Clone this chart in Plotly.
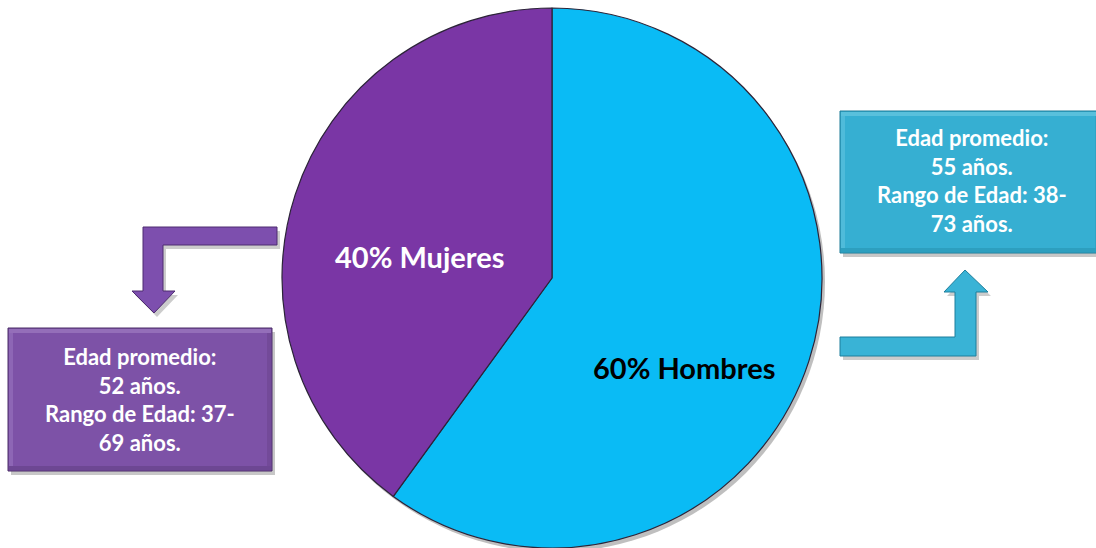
import plotly.graph_objects as go

# Sex distribution of the sample
sexes = ["Hombres", "Mujeres"]
shares = [60, 40]
slice_colors = ["#0ABBF5", "#7A36A5"]

# Age summary by sex
mean_age = {"Hombres": 55, "Mujeres": 52}
age_min = {"Hombres": 38, "Mujeres": 37}
age_max = {"Hombres": 73, "Mujeres": 69}

W, H = 1096, 548
FONT = "Lato"

fig = go.Figure()

# Pie: Hombres starts at 12 o'clock and runs clockwise
fig.add_trace(go.Pie(
    labels=sexes,
    values=shares,
    sort=False,
    direction="clockwise",
    rotation=0,
    textinfo="none",
    hoverinfo="label+percent",
    marker=dict(colors=slice_colors, line=dict(color="#2c2438", width=1.2)),
    domain=dict(x=[282 / W, 822 / W], y=[0, 1 - 8 / H]),
    showlegend=False,
))

shapes = []
annotations = []


def rect(x0, y0, x1, y1, fill, opacity=1.0):
    shapes.append(dict(type="rect", xref="x", yref="y", x0=x0, y0=y0, x1=x1, y1=y1,
                       fillcolor=fill, opacity=opacity, line=dict(width=0), layer="below"))


def box(x0, y0, x1, y1, fill, light, dark):
    # drop shadow
    rect(x0 + 3, y0 + 4, x1 + 3, y1 + 4, "rgba(0,0,0,0.22)")
    shapes.append(dict(type="rect", xref="x", yref="y", x0=x0, y0=y0, x1=x1, y1=y1,
                       fillcolor=fill, line=dict(color=dark, width=1), layer="below"))
    # soft bevel: light top/left edges, darker bottom/right edges
    rect(x0 + 1, y0 + 1, x1 - 1, y0 + 5, light, 0.35)
    rect(x0 + 1, y0 + 5, x0 + 5, y1 - 5, light, 0.25)
    rect(x0 + 1, y1 - 5, x1 - 1, y1 - 1, dark, 0.3)
    rect(x1 - 5, y0 + 5, x1 - 1, y1 - 5, dark, 0.2)


def poly(pts, dx=0, dy=0):
    return "M " + " L ".join(f"{x + dx},{y + dy}" for x, y in pts) + " Z"


# Left (Mujeres) elbow arrow pointing down to its box
left_pts = [(277, 227), (277, 245), (163, 245), (163, 291), (175, 291), (154, 313),
            (132, 291), (143, 291), (143, 227)]
# Right (Hombres) elbow arrow pointing up to its box
right_pts = [(840, 337), (955, 337), (955, 292), (944, 292), (965, 270), (988, 292),
             (976, 292), (976, 356), (840, 356)]

for pts, fill, dark in [(left_pts, "#7D4FAE", "#4e2d70"), (right_pts, "#39B3D6", "#1f7f9c")]:
    shapes.append(dict(type="path", xref="x", yref="y", path=poly(pts, 3, 4),
                       fillcolor="rgba(0,0,0,0.2)", line=dict(width=0), layer="below"))
    shapes.append(dict(type="path", xref="x", yref="y", path=poly(pts),
                       fillcolor=fill, line=dict(color=dark, width=1), layer="below"))

box(8, 328, 272, 471, "#7D52A7", "#C0A2DE", "#4a2d66")
box(840, 111, 1100, 253, "#36AFD2", "#9BDFF2", "#1c7a96")

# Pie shadow
shapes.insert(0, dict(type="circle", xref="x", yref="y", x0=282 + 3, y0=8 + 4, x1=822 + 3, y1=548 + 4,
                      fillcolor="rgba(0,0,0,0.25)", line=dict(width=0), layer="below"))

# Slice labels
share = dict(zip(sexes, shares))
annotations.append(dict(x=419, y=256, xref="x", yref="y", showarrow=False,
                        text=f"<b>{share['Mujeres']}% Mujeres</b>",
                        font=dict(family=FONT, size=29, color="white")))
annotations.append(dict(x=684, y=367, xref="x", yref="y", showarrow=False,
                        text=f"<b>{share['Hombres']}% Hombres</b>",
                        font=dict(family=FONT, size=29, color="black")))


def summary(sex):
    return (f"<b>Edad promedio:<br>{mean_age[sex]} años.<br>"
            f"Rango de Edad: {age_min[sex]}-<br>{age_max[sex]} años.</b>")


annotations.append(dict(x=140, y=399, xref="x", yref="y", showarrow=False, text=summary("Mujeres"),
                        font=dict(family=FONT, size=22, color="white"), align="center"))
annotations.append(dict(x=972, y=180, xref="x", yref="y", showarrow=False, text=summary("Hombres"),
                        font=dict(family=FONT, size=22, color="white"), align="center"))

fig.update_layout(
    width=W, height=H,
    margin=dict(l=0, r=0, t=0, b=0),
    paper_bgcolor="white", plot_bgcolor="white",
    xaxis=dict(range=[0, W], visible=False, fixedrange=True),
    yaxis=dict(range=[H, 0], visible=False, fixedrange=True),
    shapes=shapes,
    annotations=annotations,
)

fig.write_html("out.html")
